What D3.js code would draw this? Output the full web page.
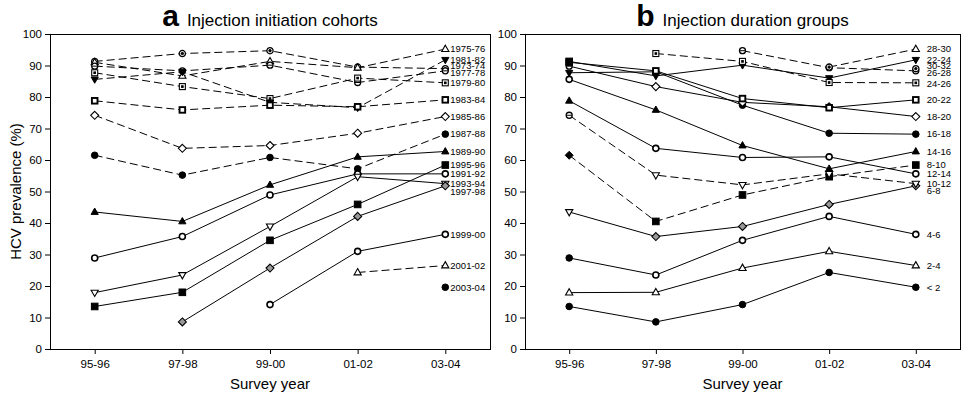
<!DOCTYPE html>
<html>
<head>
<meta charset="utf-8">
<script src="https://cdn.jsdelivr.net/npm/d3@7"></script>
<style>
  body { margin: 0; background: #fff; }
  text { font-family: "Liberation Sans", Arial, sans-serif; fill: #000; }
</style>
</head>
<body>
<script>
// survey years on the x axis
var surveys = ["95-96", "97-98", "99-00", "01-02", "03-04"];

// panel a: injection initiation cohorts
var cohortNames = ["1973-74", "1975-76", "1977-78", "1979-80", "1981-82", "1983-84", "1985-86", "1987-88",
  "1989-90", "1991-92", "1993-94", "1995-96", "1997-98", "1999-00", "2001-02", "2003-04"];
var cohortValues = [
  [91.3, 93.8, 94.7, 89.5, 89.0],
  [91.0, 86.7, 91.3, 89.3, 95.2],
  [89.8, 88.3, 90.1, 84.6, 88.3],
  [87.7, 83.3, 79.5, 86.0, 84.5],
  [85.6, 88.0, 78.3, 76.6, 91.8],
  [78.8, 75.9, 77.4, 76.9, 79.1],
  [74.2, 63.7, 64.6, 68.5, 73.8],
  [61.5, 55.2, 60.8, 57.2, 68.2],
  [43.5, 40.5, 52.1, 61.0, 62.7],
  [28.9, 35.7, 48.9, 55.6, 55.6],
  [17.9, 23.5, 38.9, 54.7, 52.5],
  [13.5, 18.0, 34.5, 45.9, 58.4],
  [null, 8.6, 25.7, 42.1, 51.8],
  [null, null, 14.1, 31.0, 36.4],
  [null, null, null, 24.3, 26.5],
  [null, null, null, null, 19.6]
];
var cohortDashed = [1, 1, 1, 1, 1, 1, 1, 1, 0, 0, 0, 0, 0, 0, 1, 0];
var cohortMarkers = ["circleDot", "tri", "theta", "squareDot", "triDownFill", "squareBold", "diamond", "dot",
  "triFill", "circle", "triDown", "squareFill", "diamondGray", "circle", "tri", "dot"];
var cohortLabelDy = [-2.5, 0, 2, 0, 0, 0, 0, 0, 0, 0, 0, 0, 6, 0, 0, 0];

// panel b: injection duration groups (years)
var groupNames = ["< 2", "2-4", "4-6", "6-8", "8-10", "10-12", "12-14", "14-16",
  "16-18", "18-20", "20-22", "22-24", "24-26", "26-28", "28-30", "30-32"];
var groupValues = [
  [13.5, 8.6, 14.1, 24.3, 19.6],
  [17.9, 18.0, 25.7, 31.0, 26.5],
  [28.9, 23.5, 34.5, 42.1, 36.4],
  [43.5, 35.7, 38.9, 45.9, 51.8],
  [61.5, 40.5, 48.9, 54.7, 58.4],
  [74.2, 55.2, 52.1, 55.6, 52.5],
  [78.8, 63.7, 60.8, 61.0, 55.6],
  [85.6, 75.9, 64.6, 57.2, 62.7],
  [87.7, 88.0, 77.4, 68.5, 68.2],
  [89.8, 83.3, 78.3, 76.9, 73.8],
  [91.0, 88.3, 79.5, 76.6, 79.1],
  [91.3, 86.7, 90.1, 86.0, 91.8],
  [null, 93.8, 91.3, 84.6, 84.5],
  [null, null, 94.7, 89.3, 88.3],
  [null, null, null, 89.5, 95.2],
  [null, null, null, null, 89.0]
];
var groupDashed = [0, 0, 0, 0, 1, 1, 0, 0, 0, 0, 0, 0, 1, 1, 1, 0];
var groupMarkers = ["dot", "tri", "circle", "diamondGray", "squareFill", "triDown", "circle", "triFill",
  "dot", "diamond", "squareBold", "triDownFill", "squareDot", "theta", "tri", "circleDot"];
var groupFirstMarkers = ["dot", "tri", "dot", "triDown", "diamondFill", "theta", "triFill", "circle",
  "triDownFill", "theta", "squareFill", "squareFill", "squareDot", "theta", "circleDot", "circleDot"];
var groupLabelDy = [0, 0, 0, 5, 0, 0, 0, 0, 0, 0, 0, 0, 1, 1.8, 0, -2.7];

var yTicks = [0, 10, 20, 30, 40, 50, 60, 70, 80, 90, 100];

var svg = d3.select("body").append("svg")
  .attr("width", 961)
  .attr("height", 400);

var y = d3.scaleLinear().domain([0, 100]).range([349, 34]);

function drawMarker(g, type, cx, cy) {
  var m = g.append("g").attr("transform", "translate(" + cx + "," + cy + ")");
  var open = {fill: "#fff", stroke: "#000", "stroke-width": 1.3};
  var solid = {fill: "#000", stroke: "#000", "stroke-width": 1};
  function shape(tag, attrs, style) {
    var s = m.append(tag);
    Object.keys(attrs).forEach(function(k) { s.attr(k, attrs[k]); });
    Object.keys(style).forEach(function(k) { s.attr(k, style[k]); });
    return s;
  }
  var triUp = "M0,-3.9L3.6,2.4L-3.6,2.4Z";
  var triDn = "M0,3.9L3.6,-2.4L-3.6,-2.4Z";
  var dia = "M0,-4L4,0L0,4L-4,0Z";
  if (type == "circle") shape("circle", {r: 3}, open).attr("stroke-width", 1.6);
  if (type == "dot") shape("circle", {r: 3.3}, solid);
  if (type == "circleDot") {
    shape("circle", {r: 3.1}, open);
    shape("circle", {r: 1.2}, solid);
  }
  if (type == "theta") {
    shape("circle", {r: 3}, open);
    shape("line", {x1: -2.8, x2: 2.8, y1: 0, y2: 0}, {stroke: "#000", "stroke-width": 1});
  }
  if (type == "tri") shape("path", {d: triUp}, open).attr("stroke-width", 1.1);
  if (type == "triFill") shape("path", {d: triUp}, solid);
  if (type == "triDown") shape("path", {d: triDn}, open).attr("stroke-width", 1.1);
  if (type == "triDownFill") shape("path", {d: triDn}, solid);
  if (type == "squareDot") {
    shape("rect", {x: -3, y: -3, width: 6, height: 6}, open).attr("stroke-width", 1.1);
    shape("rect", {x: -0.8, y: -0.8, width: 1.6, height: 1.6}, solid);
  }
  if (type == "squareBold") shape("rect", {x: -2.8, y: -2.8, width: 5.6, height: 5.6}, open).attr("stroke-width", 1.9);
  if (type == "squareFill") shape("rect", {x: -3.3, y: -3.3, width: 6.6, height: 6.6}, solid);
  if (type == "diamond") shape("path", {d: dia}, open).attr("stroke-width", 1.1);
  if (type == "diamondFill") shape("path", {d: dia}, solid);
  if (type == "diamondGray") shape("path", {d: dia}, {fill: "#999", stroke: "#000", "stroke-width": 1.1});
}

function drawPanel(opts) {
  var x = d3.scalePoint().domain(surveys).range([opts.left, opts.right]).padding(0.51);
  var g = svg.append("g");

  // axes
  var yAxis = d3.axisLeft(y).tickValues(yTicks).tickSize(5).tickPadding(3);
  var yg = g.append("g").attr("transform", "translate(" + opts.left + ",0)").call(yAxis);
  yg.select(".domain").remove();
  yg.selectAll("text").style("font-size", "11.5px").style("font-family", "'Liberation Sans', Arial, sans-serif");

  var xAxis = d3.axisBottom(x).tickSize(5).tickPadding(6);
  var xg = g.append("g").attr("transform", "translate(0," + y(0) + ")").call(xAxis);
  xg.select(".domain").remove();
  xg.selectAll("text").style("font-size", "11.5px").style("font-family", "'Liberation Sans', Arial, sans-serif");

  g.append("rect")
    .attr("x", opts.left).attr("y", y(100))
    .attr("width", opts.right - opts.left).attr("height", y(0) - y(100))
    .attr("fill", "none").attr("stroke", "#000").attr("stroke-width", 1)
    .attr("shape-rendering", "crispEdges");

  // title
  var t = g.append("text")
    .attr("x", (opts.left + opts.right) / 2)
    .attr("y", 26)
    .attr("text-anchor", "middle");
  t.append("tspan").style("font-size", "30px").style("font-weight", "bold").text(opts.letter);
  t.append("tspan").attr("dx", 8).style("font-size", "17px").text(opts.title);

  g.append("text")
    .attr("x", (opts.left + opts.right) / 2)
    .attr("y", 389)
    .attr("text-anchor", "middle")
    .style("font-size", "15px")
    .text("Survey year");

  var line = d3.line()
    .defined(function(d) { return d != null; })
    .x(function(d, i) { return x(surveys[i]); })
    .y(function(d) { return y(d); });

  opts.values.forEach(function(vals, k) {
    g.append("path")
      .attr("d", line(vals))
      .attr("fill", "none")
      .attr("stroke", "#000")
      .attr("stroke-width", 1)
      .attr("stroke-dasharray", opts.dashed[k] ? "8,4" : null);
  });

  opts.values.forEach(function(vals, k) {
    var first = true;
    vals.forEach(function(v, i) {
      if (v == null) return;
      var type = (first && opts.firstMarkers) ? opts.firstMarkers[k] : opts.markers[k];
      first = false;
      drawMarker(g, type, x(surveys[i]), y(v));
    });
    g.append("text")
      .attr("x", x(surveys[4]) + opts.labelGap)
      .attr("y", y(vals[4]) + opts.labelDy[k])
      .attr("dy", "0.35em")
      .style("font-size", "9.5px")
      .text(opts.names[k]);
  });
}

drawPanel({
  left: 50, right: 490, letter: "a", title: "Injection initiation cohorts",
  names: cohortNames, values: cohortValues, dashed: cohortDashed,
  markers: cohortMarkers, labelDy: cohortLabelDy, labelGap: 5
});

drawPanel({
  left: 525, right: 960, letter: "b", title: "Injection duration groups",
  names: groupNames, values: groupValues, dashed: groupDashed,
  markers: groupMarkers, firstMarkers: groupFirstMarkers, labelDy: groupLabelDy, labelGap: 11
});

svg.append("text")
  .attr("transform", "translate(21," + ((y(0) + y(100)) / 2) + ") rotate(-90)")
  .attr("text-anchor", "middle")
  .style("font-size", "15px")
  .text("HCV prevalence (%)");
</script>
</body>
</html>
